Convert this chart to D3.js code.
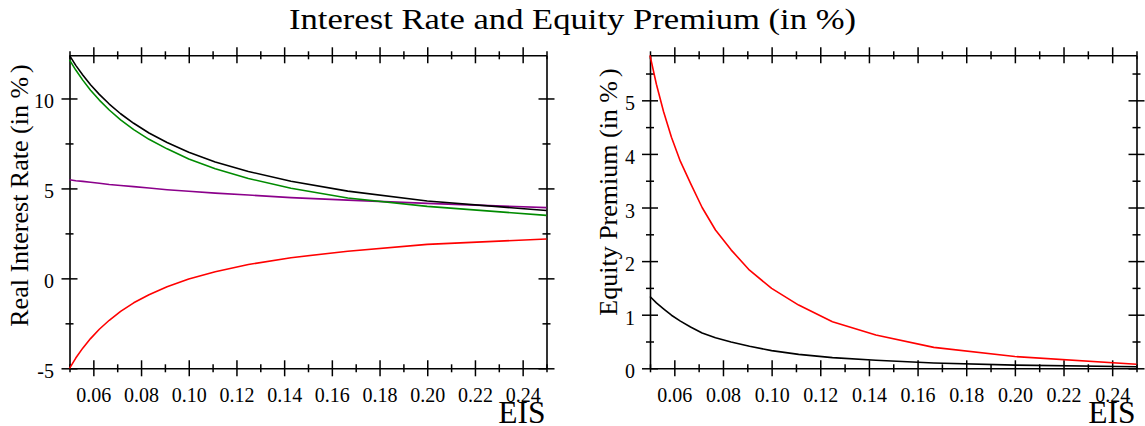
<!DOCTYPE html>
<html>
<head>
<meta charset="utf-8">
<script src="https://cdn.jsdelivr.net/npm/d3@7"></script>
<style>
  html, body { margin: 0; padding: 0; background: #fff; }
  svg { display: block; }
  text { font-family: "Liberation Serif", "Times New Roman", serif; fill: #000; }
</style>
</head>
<body>
<svg id="chart" width="1145" height="426"></svg>
<script>
// EIS grid (1/20 ... 1/4)
const eis = [0.05, 0.05263, 0.05556, 0.05882, 0.0625, 0.06667, 0.07143, 0.07692,
             0.08333, 0.09091, 0.1, 0.11111, 0.125, 0.14286, 0.16667, 0.2, 0.25];

// Real interest rate series (in %)
const rateBlack  = [12.4, 11.84, 11.30, 10.76, 10.23, 9.69, 9.15, 8.62, 8.08, 7.55, 7.01, 6.47, 5.94, 5.40, 4.85, 4.30, 3.77];
const rateGreen  = [12.15, 11.58, 11.02, 10.46, 9.91, 9.36, 8.81, 8.27, 7.73, 7.20, 6.64, 6.09, 5.55, 5.01, 4.47, 4.00, 3.50];
const ratePurple = [5.48, 5.43, 5.39, 5.34, 5.29, 5.22, 5.16, 5.10, 5.02, 4.93, 4.84, 4.74, 4.63, 4.49, 4.35, 4.17, 3.93];
const rateRed    = [-5.00, -4.43, -3.88, -3.35, -2.83, -2.33, -1.84, -1.36, -0.91, -0.47, -0.04, 0.37, 0.77, 1.15, 1.51, 1.89, 2.19];

// Equity premium series (in %)
const premRed   = [5.84, 5.30, 4.79, 4.31, 3.86, 3.45, 3.00, 2.58, 2.21, 1.83, 1.49, 1.18, 0.87, 0.62, 0.39, 0.22, 0.075];
const premBlack = [1.34, 1.22, 1.11, 0.99, 0.88, 0.77, 0.66, 0.57, 0.49, 0.41, 0.33, 0.26, 0.20, 0.15, 0.10, 0.06, 0.03];

// Tick values
const xMajor = [0.06, 0.08, 0.10, 0.12, 0.14, 0.16, 0.18, 0.20, 0.22, 0.24];
const xMinor = [0.05, 0.07, 0.09, 0.11, 0.13, 0.15, 0.17, 0.19, 0.21, 0.23, 0.25];
const rateMajor = [-5, 0, 5, 10];
const rateMinor = [-2.5, 2.5, 7.5];
const premMajor = [0, 1, 2, 3, 4, 5];
const premMinor = [0.5, 1.5, 2.5, 3.5, 4.5, 5.5];

const title = "Interest Rate and Equity Premium (in %)";
const xLabel = "EIS";

const svg = d3.select("#chart");

svg.append("text")
  .attr("x", 572.5).attr("y", 29)
  .attr("text-anchor", "middle")
  .attr("font-size", 30)
  .attr("textLength", 567)
  .attr("lengthAdjust", "spacingAndGlyphs")
  .text(title);

// integer labels with a plain hyphen for negatives
const intFmt = d => String(d);

function crossTicks(sel, horizontal, size) {
  sel.selectAll(".tick line")
    .attr(horizontal ? "y1" : "x1", -size)
    .attr(horizontal ? "y2" : "x2", size)
    .attr("stroke", "#000").attr("stroke-width", 1.5);
}

function drawPanel(cfg) {
  const x = d3.scaleLinear().domain([0.05, 0.25]).range([cfg.left, cfg.right]);
  const y = d3.scaleLinear().domain(cfg.yDomain).range([cfg.bottom, cfg.top]);
  const g = svg.append("g");

  // minor ticks (all four sides)
  const minorAxes = [
    [d3.axisBottom(x).tickValues(xMinor), `translate(0,${cfg.bottom})`, true],
    [d3.axisTop(x).tickValues(xMinor), `translate(0,${cfg.top})`, true],
    [d3.axisLeft(y).tickValues(cfg.yMinor), `translate(${cfg.left},0)`, false],
    [d3.axisRight(y).tickValues(cfg.yMinor), `translate(${cfg.right},0)`, false]
  ];
  minorAxes.forEach(([ax, tr, hor]) => {
    const a = g.append("g").attr("transform", tr)
      .call(ax.tickSizeOuter(0).tickFormat(""));
    a.select(".domain").remove();
    crossTicks(a, hor, 4);
  });

  // major ticks (all four sides)
  const bottom = g.append("g").attr("transform", `translate(0,${cfg.bottom})`)
    .call(d3.axisBottom(x).tickValues(xMajor).tickSizeOuter(0).tickFormat(d3.format(".2f")));
  const top = g.append("g").attr("transform", `translate(0,${cfg.top})`)
    .call(d3.axisTop(x).tickValues(xMajor).tickSizeOuter(0).tickFormat(""));
  const left = g.append("g").attr("transform", `translate(${cfg.left},0)`)
    .call(d3.axisLeft(y).tickValues(cfg.yMajor).tickSizeOuter(0).tickFormat(intFmt));
  const right = g.append("g").attr("transform", `translate(${cfg.right},0)`)
    .call(d3.axisRight(y).tickValues(cfg.yMajor).tickSizeOuter(0).tickFormat(""));

  [bottom, top, left, right].forEach(a => a.attr("font-family", null));
  [bottom, top].forEach(a => crossTicks(a, true, 8));
  [left, right].forEach(a => crossTicks(a, false, 8));
  [bottom, top, left, right].forEach(a => a.select(".domain").attr("stroke", "#000").attr("stroke-width", 1.6));

  bottom.selectAll(".tick text")
    .attr("y", 33.5).attr("dy", 0)
    .attr("font-size", 20);
  left.selectAll(".tick text")
    .attr("x", cfg.yLabelX - cfg.left).attr("y", 9.5).attr("dy", 0)
    .attr("font-size", 20);

  // series
  const line = d3.line().x((d, i) => x(eis[i])).y(d => y(d)).curve(d3.curveLinear);
  cfg.series.forEach(s => {
    g.append("path").datum(s.values)
      .attr("fill", "none").attr("stroke", s.color).attr("stroke-width", 1.6)
      .attr("stroke-linejoin", "round")
      .attr("d", line);
  });

  // axis titles
  g.append("text")
    .attr("x", cfg.right - 1).attr("y", 422.5)
    .attr("text-anchor", "end").attr("font-size", 31.5)
    .text(xLabel);

  const yl = g.append("text")
    .attr("transform", `translate(${cfg.yTitleX},${cfg.yTitleY}) rotate(-90)`)
    .attr("text-anchor", "middle").attr("font-size", 26);
  yl.append("tspan").text(cfg.yTitle + " (in %");
  yl.append("tspan").attr("dx", 4).text(")");
}

const rateAll = rateBlack.concat(rateGreen, ratePurple, rateRed);
const premAll = premRed.concat(premBlack);

drawPanel({
  left: 69.5, right: 546.5, top: 55.3, bottom: 368.3,
  yDomain: d3.extent(rateAll),
  yMajor: rateMajor, yMinor: rateMinor,
  yLabelX: 54,
  yTitle: "Real Interest Rate", yTitleX: 27.5, yTitleY: 195.5,
  series: [
    { values: ratePurple, color: "#8b008b" },
    { values: rateRed, color: "#ff0000" },
    { values: rateGreen, color: "#008b00" },
    { values: rateBlack, color: "#000000" }
  ]
});

drawPanel({
  left: 650, right: 1136.5, top: 55.3, bottom: 368.3,
  yDomain: [0, d3.max(premAll)],
  yMajor: premMajor, yMinor: premMinor,
  yLabelX: 635,
  yTitle: "Equity Premium", yTitleX: 617, yTitleY: 192,
  series: [
    { values: premBlack, color: "#000000" },
    { values: premRed, color: "#ff0000" }
  ]
});
</script>
</body>
</html>
